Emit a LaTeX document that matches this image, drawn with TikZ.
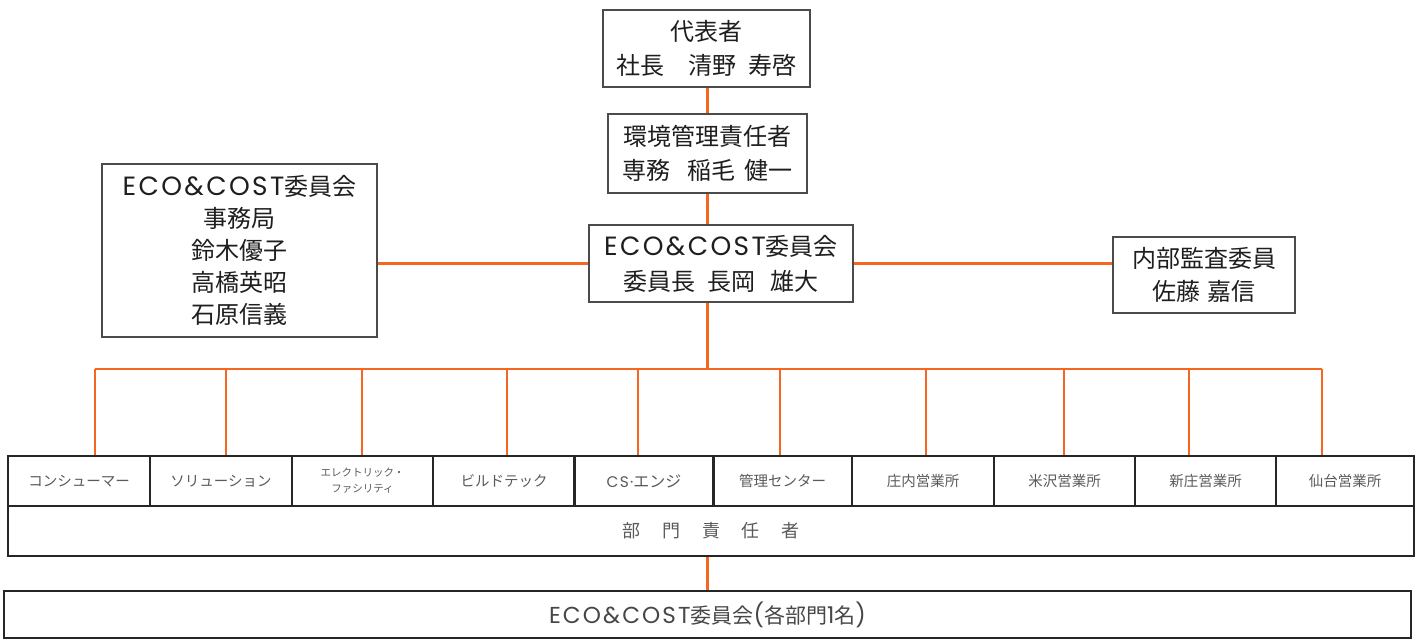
\documentclass[tikz,border=0pt]{standalone}
\usepackage{graphicx}
\usepackage{fontspec}
\setmainfont{Noto Sans CJK JP}
\newfontfamily\latinfont[LetterSpace=9,Scale=1.1]{Poppins}
\newcommand\eco{{\latinfont ECO\&COST}}
\definecolor{org}{RGB}{245,102,30}
\definecolor{bx}{RGB}{75,75,75}
\definecolor{tx}{RGB}{30,30,30}
\definecolor{gtx}{RGB}{90,90,90}
\begin{document}
\begin{tikzpicture}[x=1pt,y=-1pt,
  topbox/.style={draw=bx, line width=1.8pt, align=center, inner sep=0pt, text=tx,
    font=\fontsize{24}{34}\selectfont},
  cell/.style={draw=black!85, line width=2.4pt, inner sep=0pt, minimum height=50pt,
    align=center, text=gtx, font=\fontsize{14.5}{18}\selectfont},
  link/.style={draw=org, line width=2.6pt},
]
\useasboundingbox (0,0) rectangle (1421,640);

% top chain
\node[topbox, minimum width=207pt, minimum height=77pt] (rep) at (706.5,48.5)
  {代表者\\社長\hspace{1em}清野\hspace{0.5em}寿啓};
\node[topbox, minimum width=199pt, minimum height=79pt] (env) at (707.5,153.5)
  {環境管理責任者\\専務\hspace{0.7em}稲毛\hspace{0.35em}健一};
\node[topbox, minimum width=264pt, minimum height=77pt, font=\fontsize{24}{35}\selectfont] (chair) at (721,263.5)
  {\eco 委員会\\委員長\hspace{0.5em}長岡\hspace{0.65em}雄大};
\node[topbox, minimum width=275pt, minimum height=173pt, font=\fontsize{24}{32}\selectfont] (sec) at (239.5,250.5)
  {\eco 委員会\\事務局\\鈴木優子\\高橋英昭\\石原信義};
\node[topbox, minimum width=182pt, minimum height=76pt, font=\fontsize{24}{33}\selectfont] (aud) at (1204,275)
  {内部監査委員\\佐藤\hspace{0.3em}嘉信};

% department cells
\node[cell, minimum width=142pt] (d1) at (79,481) {コンシューマー};
\node[cell, minimum width=142pt] (d2) at (221,481) {ソリューション};
\node[cell, minimum width=141pt, font=\fontsize{10.5}{16}\selectfont] (d3) at (362.5,481) {エレクトリック・\\ファシリティ};
\node[cell, minimum width=142pt] (d4) at (504,481) {ビルドテック};
\node[cell, minimum width=140pt] (d5) at (644,481) {{\latinfont\fontsize{14}{18}\selectfont CS·}{\fontsize{16}{18}\selectfont エンジ}};
\node[cell, minimum width=139pt] (d6) at (782.5,481) {管理センター};
\node[cell, minimum width=142pt] (d7) at (923,481) {庄内営業所};
\node[cell, minimum width=141pt] (d8) at (1064.5,481) {米沢営業所};
\node[cell, minimum width=141pt] (d9) at (1205.5,481) {新庄営業所};
\node[cell, minimum width=138pt] (d10) at (1345,481) {仙台営業所};

\node[cell, minimum width=1406pt, font=\fontsize{18}{20}\selectfont] (resp) at (711,531)
  {部\hspace{22pt}門\hspace{22pt}責\hspace{22pt}任\hspace{22pt}者};
\node[cell, minimum width=1407pt, minimum height=47pt, text=black!72, font=\fontsize{21}{24}\selectfont] (all) at (707.5,614.5)
  {\eco 委員会{\latinfont(}各部門{\latinfont 1}名{\latinfont)}};

% connectors
\draw[link] (rep.south -| env.south) -- (env.north);
\draw[link] (env.south) -- (env.south |- chair.north);
\draw[link] (chair.west) -- (chair.west -| sec.east);
\draw[link] (chair.east) -- (chair.east -| aud.west);

\coordinate (j1) at (95,369);
\coordinate (j2) at (226,369);
\coordinate (j3) at (362,369);
\coordinate (j4) at (507,369);
\coordinate (j5) at (638,369);
\coordinate (j6) at (780,369);
\coordinate (j7) at (926,369);
\coordinate (j8) at (1064,369);
\coordinate (j9) at (1189,369);
\coordinate (j10) at (1322,369);

\draw[link] (env.south |- chair.south) -- (env.south |- j1);
\draw[link] (j1) -- (j10);
\foreach \i in {1,...,10} {
  \draw[link] (j\i) -- (j\i |- d\i.north);
}
\draw[link] (resp.south -| env.south) -- (all.north -| env.south);
\end{tikzpicture}
\end{document}
